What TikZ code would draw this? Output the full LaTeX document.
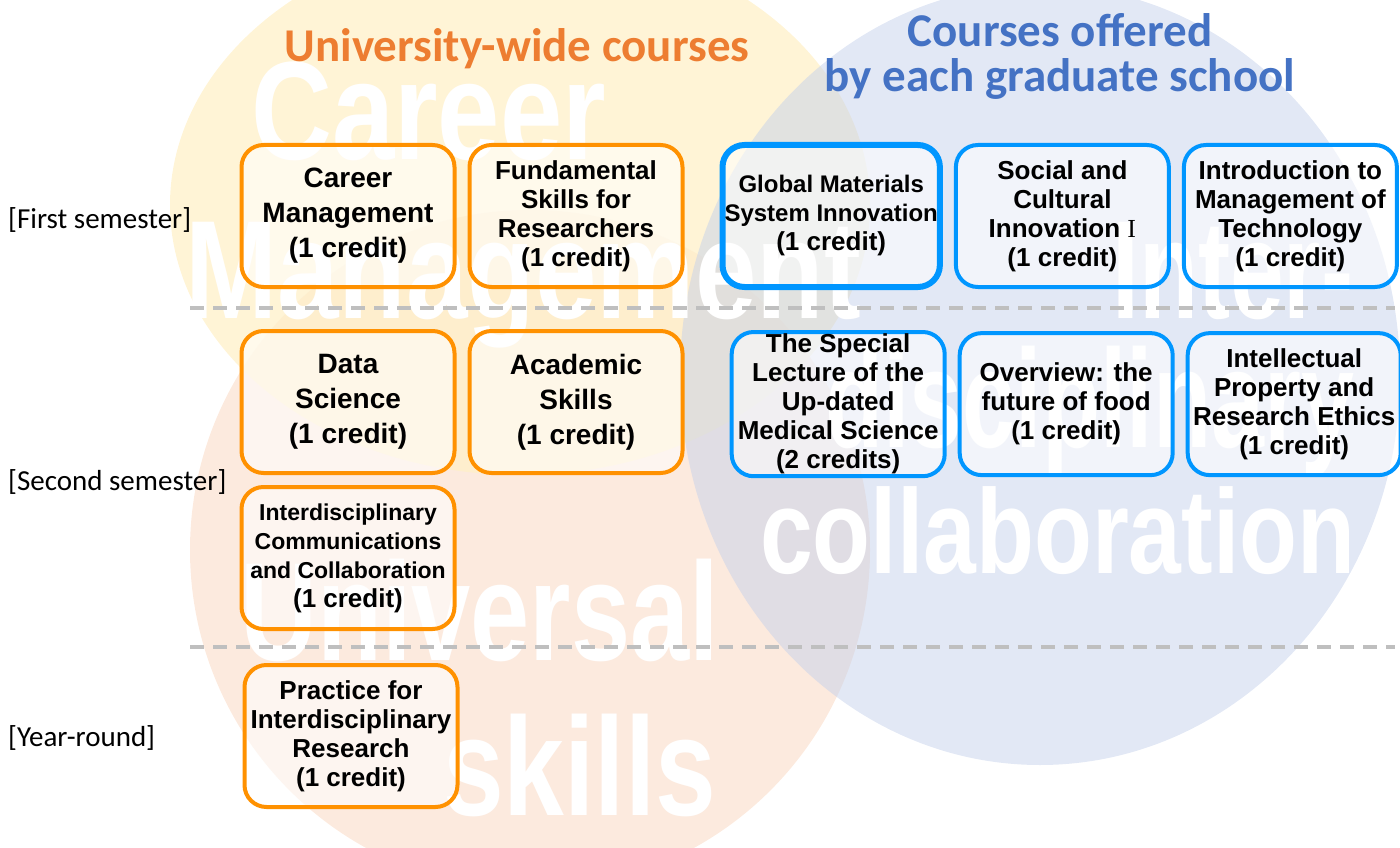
\documentclass[tikz,border=0pt]{standalone}
\usepackage{fontspec}
\setmainfont{Carlito}
\newfontfamily\boxfont{Liberation Sans}
\newfontfamily\numfont{Liberation Serif}
\usetikzlibrary{positioning}

\definecolor{uniorange}{RGB}{255,145,0}
\definecolor{gradblue}{RGB}{0,150,255}
\definecolor{titleorange}{RGB}{237,125,49}
\definecolor{titleblue}{RGB}{68,114,196}
\definecolor{circyellow}{RGB}{255,240,200}
\definecolor{circorange}{RGB}{252,234,222}
\definecolor{circblue}{RGB}{197,209,235}
\definecolor{rulegray}{RGB}{191,191,191}

\begin{document}
\begin{tikzpicture}[x=1pt,y=1pt,
    node distance=11pt and 11pt,
    course/.style={line width=4pt,rounded corners=22pt,fill=white,fill opacity=0.55,text opacity=1,
      minimum width=213pt,minimum height=142pt,inner sep=2pt,align=center,text=black,
      font=\boxfont\bfseries\fontsize{26}{29}\selectfont},
    ucourse/.style={course,draw=uniorange},
    gcourse/.style={course,draw=gradblue},
    large/.style={font=\boxfont\bfseries\fontsize{28}{35}\selectfont},
    small/.style={font=\boxfont\bfseries\fontsize{#1}{29}\selectfont},
    bigword/.style={text=white,inner sep=0pt,anchor=base west,
      font=\boxfont\bfseries\fontsize{140}{140}\selectfont},
    term/.style={anchor=west,inner sep=0pt,font=\fontsize{29}{29}\selectfont},
    heading/.style={align=center,inner sep=0pt,font=\bfseries\fontsize{47}{45}\selectfont},
    sep/.style={rulegray,line width=4pt,dash pattern=on 14pt off 9pt},
  ]
  \useasboundingbox (0,0) rectangle (1400,-848);

  % the three circles behind everything
  \begin{scope}
    \clip (0,0) rectangle (1400,-848);
    \fill[circorange] (530,-550) circle [radius=340];
    \fill[circyellow,opacity=0.75] (520,-205) ellipse [x radius=350, y radius=270];
    \fill[circblue,opacity=0.5] (1040,-375) ellipse [x radius=360, y radius=390];
  \end{scope}

  % big white words
  \node[bigword] (wcareer) at (251,-160) {\scalebox{0.8}[1]{Career}};
  \node[bigword] (wmanage) at (185,-318) {\scalebox{0.79}[1]{Management}};
  \node[bigword] (winter) at (1112,-318) {\scalebox{0.69}[1]{Inter-}};
  \node[bigword] (wdisc) at (825,-447) {\scalebox{0.68}[1]{disciplinary}};
  \node[bigword,font=\boxfont\bfseries\fontsize{120}{120}\selectfont] (wcollab) at (760,-573) {\scalebox{0.79}[1]{collaboration}};
  \node[bigword] (wuniv) at (240,-660) {\scalebox{0.76}[1]{Universal}};
  \node[bigword] (wskills) at (443,-815) {\scalebox{0.78}[1]{skills}};

  % headings
  \node[heading,titleorange,anchor=base] (uniwide) at (517,-62) {University-wide courses};
  \node[heading,titleblue] (school) at (1060,-56) {Courses offered\\by each graduate school};

  % semesters
  \node[term] (first) at (8,-220) {[First semester]};
  \node[term] (second) at (8,-482) {[Second semester]};
  \node[term] (year) at (8,-738) {[Year-round]};

  \draw[sep] (190,-308) -- (1395,-308);
  \draw[sep] (190,-647) -- (1395,-647);

  % first semester
  \node[ucourse,large] (career) at (348,-216) {Career\\Management\\(1 credit)};
  \node[ucourse,right=of career] (fundamental) {Fundamental\\Skills for\\Researchers\\(1 credit)};
  \node[gcourse,small=24,line width=6pt,right=35pt of fundamental] (materials)
    {Global Materials\\System Innovation\\{\fontsize{26}{30}\selectfont(1 credit)}};
  \node[gcourse,right=of materials] (social) {Social and\\Cultural\\Innovation {\numfont\mdseries I}\\(1 credit)};
  \node[gcourse,right=of social] (mot) {Introduction to\\Management of\\Technology\\(1 credit)};

  % second semester
  \node[ucourse,large,below=40pt of career] (data) {Data\\Science\\(1 credit)};
  \node[ucourse,large,right=of data] (academic) {Academic\\Skills\\(1 credit)};
  \node[gcourse,below=40pt of materials,xshift=7pt] (medical) {The Special\\Lecture of the\\Up-dated\\Medical Science\\(2 credits)};
  \node[gcourse,right=of medical] (food) {Overview: the\\future of food\\(1 credit)};
  \node[gcourse,right=of food] (ethics) {Intellectual\\Property and\\Research Ethics\\(1 credit)};
  \node[ucourse,small=23,below=10pt of data] (communic)
    {Interdisciplinary\\Communications\\and Collaboration\\{\fontsize{26}{29}\selectfont(1 credit)}};

  % year-round
  \node[ucourse] (practice) at (351,-736) {Practice for\\Interdisciplinary\\Research\\(1 credit)};
\end{tikzpicture}
\end{document}
